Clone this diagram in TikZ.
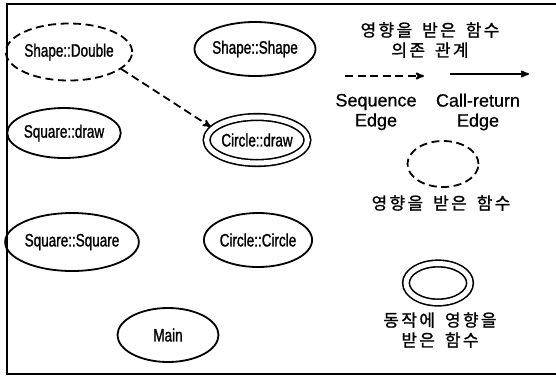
\documentclass[tikz,border=0pt]{standalone}
\usepackage{fontspec}
\setmainfont{Liberation Sans}[FakeBold=0.6]
\newfontfamily\kr{Noto Sans CJK KR}[LetterSpace=14,WordSpace=1.6,FakeBold=1.2]
\newfontfamily\narrow{Liberation Sans}[FakeStretch=0.75,FakeBold=1.2]
\usetikzlibrary{arrows,shapes.geometric}

\begin{document}
\begin{tikzpicture}[x=1pt,y=-1pt,>=stealth',line width=1.8pt]

  \tikzstyle{func}=[draw,ellipse,inner sep=0pt,font=\narrow\fontsize{18}{20}\selectfont]
  \tikzstyle{affected}=[func,dash pattern=on 8pt off 4.5pt]
  \tikzstyle{touched}=[func,double,double distance=5pt,line width=1.6pt]
  \tikzstyle{legend}=[inner sep=0pt,align=center,font=\fontsize{18}{20}\selectfont]
  \tikzstyle{hangul}=[inner sep=0pt,align=center,font=\kr\fontsize{17}{20}\selectfont]

  \useasboundingbox (0,0) rectangle (556,376);
  \draw[line width=1.8pt] (556,4) -- (7,4) -- (7,374) -- (556,374);

  % functions
  \node[affected, minimum width=106pt, minimum height=57pt] (double)  at (69,52)   {Shape::Double};
  \node[func,     minimum width=103pt, minimum height=54pt] (shape)   at (255,49)  {Shape::Shape};
  \node[func,     minimum width=100pt, minimum height=50pt] (sqdraw)  at (64,133)  {Square::draw};
  \node[touched,  minimum width=97pt,  minimum height=46pt] (circdraw) at (257,140) {Circle::draw};
  \node[func,     minimum width=110pt, minimum height=58pt] (square)  at (72,242)  {Square::Square};
  \node[func,     minimum width=100pt, minimum height=54pt] (circle)  at (258,240) {Circle::Circle};
  \node[func,     minimum width=101pt, minimum height=54pt] (main)    at (168,335) {Main};

  \path[->,dash pattern=on 8pt off 4.5pt,shorten >=2pt] (double.-18) edge (circdraw.165);

  % legend
  \node[hangul] (title) at (430,40) {영향을 받은 함수\\의존 관계};

  \coordinate (seqa) at (345,76);
  \coordinate (seqb) at (424,76);
  \coordinate (calla) at (450,74);
  \coordinate (callb) at (529,74);
  \path[->,dash pattern=on 8pt off 4.5pt] (seqa) edge (seqb);
  \path[->] (calla) edge (callb);

  \node[legend] (seq)  at (376,112) {Sequence\\Edge};
  \node[legend] (call) at (478,112) {Call-return\\Edge};

  \node[affected, minimum width=71pt, minimum height=46pt] (affkey) at (443,164) {};
  \node[hangul] (afftext) at (441,203) {영향을 받은 함수};

  \node[touched, minimum width=64pt, minimum height=39pt] (touchkey) at (438,283) {};
  \node[hangul] (touchtext) at (440,330) {동작에 영향을\\받은 함수};

\end{tikzpicture}
\end{document}
